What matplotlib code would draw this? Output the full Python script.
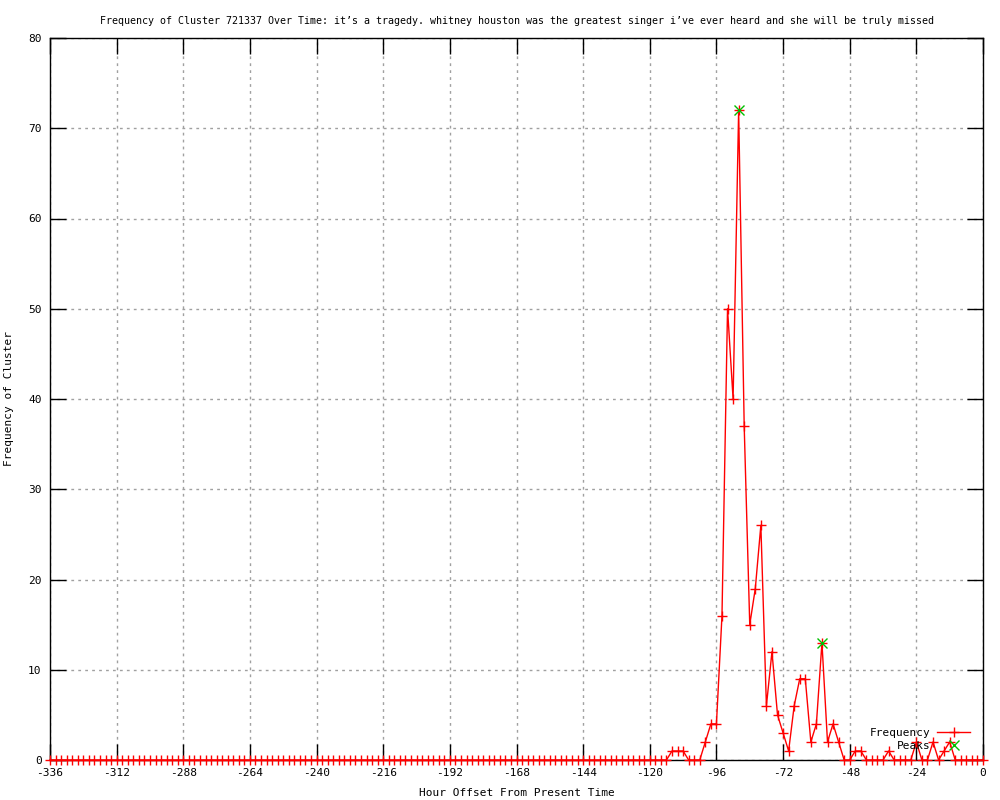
import numpy as np
import matplotlib
matplotlib.use("Agg")
import matplotlib.pyplot as plt

# hour offsets, one sample every 2 hours
hours = np.arange(-336, 1, 2)

# frequency per sample (-336 .. -114 all zero)
freq_quiet = [0, 0, 0, 0, 0, 0, 0, 0, 0, 0, 0, 0, 0, 0, 0, 0,
              0, 0, 0, 0, 0, 0, 0, 0, 0, 0, 0, 0, 0, 0, 0, 0,
              0, 0, 0, 0, 0, 0, 0, 0, 0, 0, 0, 0, 0, 0, 0, 0,
              0, 0, 0, 0, 0, 0, 0, 0, 0, 0, 0, 0, 0, 0, 0, 0,
              0, 0, 0, 0, 0, 0, 0, 0, 0, 0, 0, 0, 0, 0, 0, 0,
              0, 0, 0, 0, 0, 0, 0, 0, 0, 0, 0, 0, 0, 0, 0, 0,
              0, 0, 0, 0, 0, 0, 0, 0, 0, 0, 0, 0, 0, 0, 0, 0]
# -112 .. 0
freq_active = [1, 1, 1, 0, 0, 0, 2, 4, 4, 16, 50, 40,
               72, 37, 15, 19, 26, 6, 12, 5, 3, 1, 6, 9,
               9, 2, 4, 13, 2, 4, 2, 0, 0, 1, 1, 0,
               0, 0, 0, 1, 0, 0, 0, 0, 2, 0, 0, 2,
               0, 1, 2, 0, 0, 0, 0, 0, 0]
freq = freq_quiet + freq_active

peak_hours = [-88, -58]
peak_vals = [72, 13]

title = ("Frequency of Cluster 721337 Over Time: it\u2019s a tragedy. whitney houston "
         "was the greatest singer i\u2019ve ever heard and she will be truly missed")

plt.rcParams['font.family'] = ['DejaVu Sans Mono']
plt.rcParams['font.size'] = 8
plt.rcParams['axes.unicode_minus'] = False

fig = plt.figure(figsize=(10, 8), dpi=100)
ax = fig.add_axes([0.05, 0.05, 0.933, 0.9025])

ax.plot(hours, freq, color='#ff0000', lw=1.0, marker='+', ms=7, mew=1.0,
        clip_on=False, label='Frequency', zorder=3)
ax.plot(peak_hours, peak_vals, ls='none', color='#00c000', marker='x', ms=7,
        mew=1.0, clip_on=False, label='Peaks', zorder=4)

ax.set_xlim(-336, 0)
ax.set_ylim(0, 80)
ax.set_xticks(np.arange(-336, 1, 24))
ax.set_yticks(np.arange(0, 81, 10))

ax.grid(True, color='#a0a0a0', linestyle=(0, (2, 3)), linewidth=1)
ax.set_axisbelow(True)
ax.tick_params(direction='in', length=11.5, width=1, top=True, right=True,
               pad=6, labelsize=8)
for s in ax.spines.values():
    s.set_linewidth(1)

ax.set_title(title, fontsize=7.2, pad=10)
ax.set_xlabel("Hour Offset From Present Time", fontsize=8, labelpad=7)
ax.set_ylabel("Frequency of Cluster", fontsize=8, labelpad=10)

ax.legend(loc='lower right', bbox_to_anchor=(0.996, 0.0), frameon=False,
          markerfirst=False, handlelength=3.0, handletextpad=0.6,
          labelspacing=0.25, fontsize=8, borderpad=0.3)

fig.savefig('out.png', dpi=100)
